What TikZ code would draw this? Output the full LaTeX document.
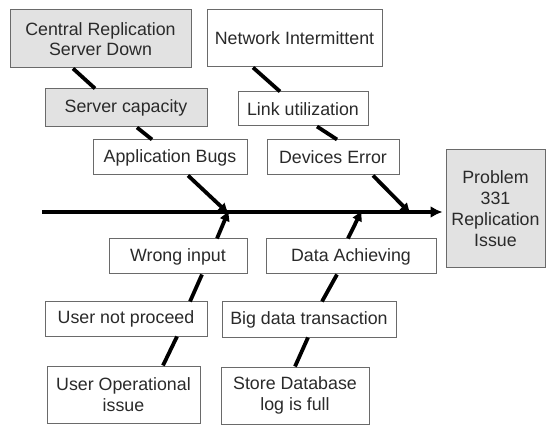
\documentclass[tikz,border=0pt]{standalone}
\usepackage{fontspec}
\setmainfont{Liberation Sans}
\usetikzlibrary{arrows.meta}
\definecolor{txt}{HTML}{2A2A2A}
\definecolor{edge}{HTML}{6A6A6A}
\definecolor{shade}{HTML}{E2E2E2}
\begin{document}
\begin{tikzpicture}[x=1pt,y=-1pt,
  cause/.style={draw=edge,line width=1pt,fill=white,inner sep=0pt,align=center,
    text=txt,font=\fontsize{17.8pt}{20.5pt}\selectfont},
  graybox/.style={cause,fill=shade},
  bone/.style={line width=3.8pt,black},
  tipbone/.style={bone,-{Latex[length=11pt,width=11pt]}},
  spine/.style={line width=4.2pt,black,-{Latex[length=12pt,width=12pt]}}]
\fill[white] (0,0) rectangle (547,425);
\useasboundingbox (0,0) rectangle (547,425);
% boxes
\node[graybox,minimum width=181pt,minimum height=58pt] (A) at (100.5,39) {Central Replication\\Server Down};
\node[cause,minimum width=175pt,minimum height=57pt] (B) at (294.5,38.5) {Network Intermittent};
\node[graybox,minimum width=162pt,minimum height=38pt] (C) at (126,108) {Server capacity};
\node[cause,minimum width=130pt,minimum height=34pt] (D) at (303,109) {Link utilization};
\node[cause,minimum width=154pt,minimum height=35pt] (E) at (170,157.5) {Application Bugs};
\node[cause,minimum width=132pt,minimum height=35pt] (F) at (333,157.5) {Devices Error};
\node[graybox,minimum width=99pt,minimum height=118pt,font=\fontsize{17.8pt}{21pt}\selectfont] (P) at (495.5,209) {Problem\\331\\Replication\\Issue};
\node[cause,minimum width=138pt,minimum height=35pt] (G) at (178,256.5) {Wrong input};
\node[cause,minimum width=170pt,minimum height=35pt] (H) at (351,256.5) {Data Achieving};
\node[cause,minimum width=162pt,minimum height=34pt] (I) at (126,319) {User not proceed};
\node[cause,minimum width=174pt,minimum height=35pt] (J) at (309,319.5) {Big data transaction};
\node[cause,minimum width=153pt,minimum height=57pt] (K) at (123.5,394.5) {User Operational\\issue};
\node[cause,minimum width=148pt,minimum height=57pt] (L) at (295,395.5) {Store Database\\log is full};
% spine
\coordinate (S) at (42,212);
\coordinate (j1) at (229,212);
\coordinate (j2) at (362,212);
\coordinate (j3) at (411,212);
\draw[spine,shorten >=3pt] (S) -- (P.west |- S);
% upper bones
\draw[bone] (A.south -| 73,0) -- (C.north -| 95,0);
\draw[bone] (C.south -| 137,0) -- (E.north -| 152,0);
\draw[tipbone] (E.south -| 188,0) -- ([yshift=-2pt]j1);
\draw[bone] (B.south -| 253,0) -- (D.north -| 280,0);
\draw[bone] (D.south -| 317,0) -- (F.north -| 337,0);
\draw[tipbone] (F.south -| 373,0) -- ([yshift=-2pt]j3);
% lower bones
\draw[tipbone] (G.north -| 217,0) -- ([yshift=2pt]j1);
\draw[bone] (I.north -| 190,0) -- (G.south -| 202,0);
\draw[bone] (K.north -| 163,0) -- (I.south -| 177,0);
\draw[tipbone] (H.north -| 348,0) -- ([yshift=2pt]j2);
\draw[bone] (J.north -| 322,0) -- (H.south -| 337,0);
\draw[bone] (L.north -| 295,0) -- (J.south -| 308,0);
\end{tikzpicture}
\end{document}
